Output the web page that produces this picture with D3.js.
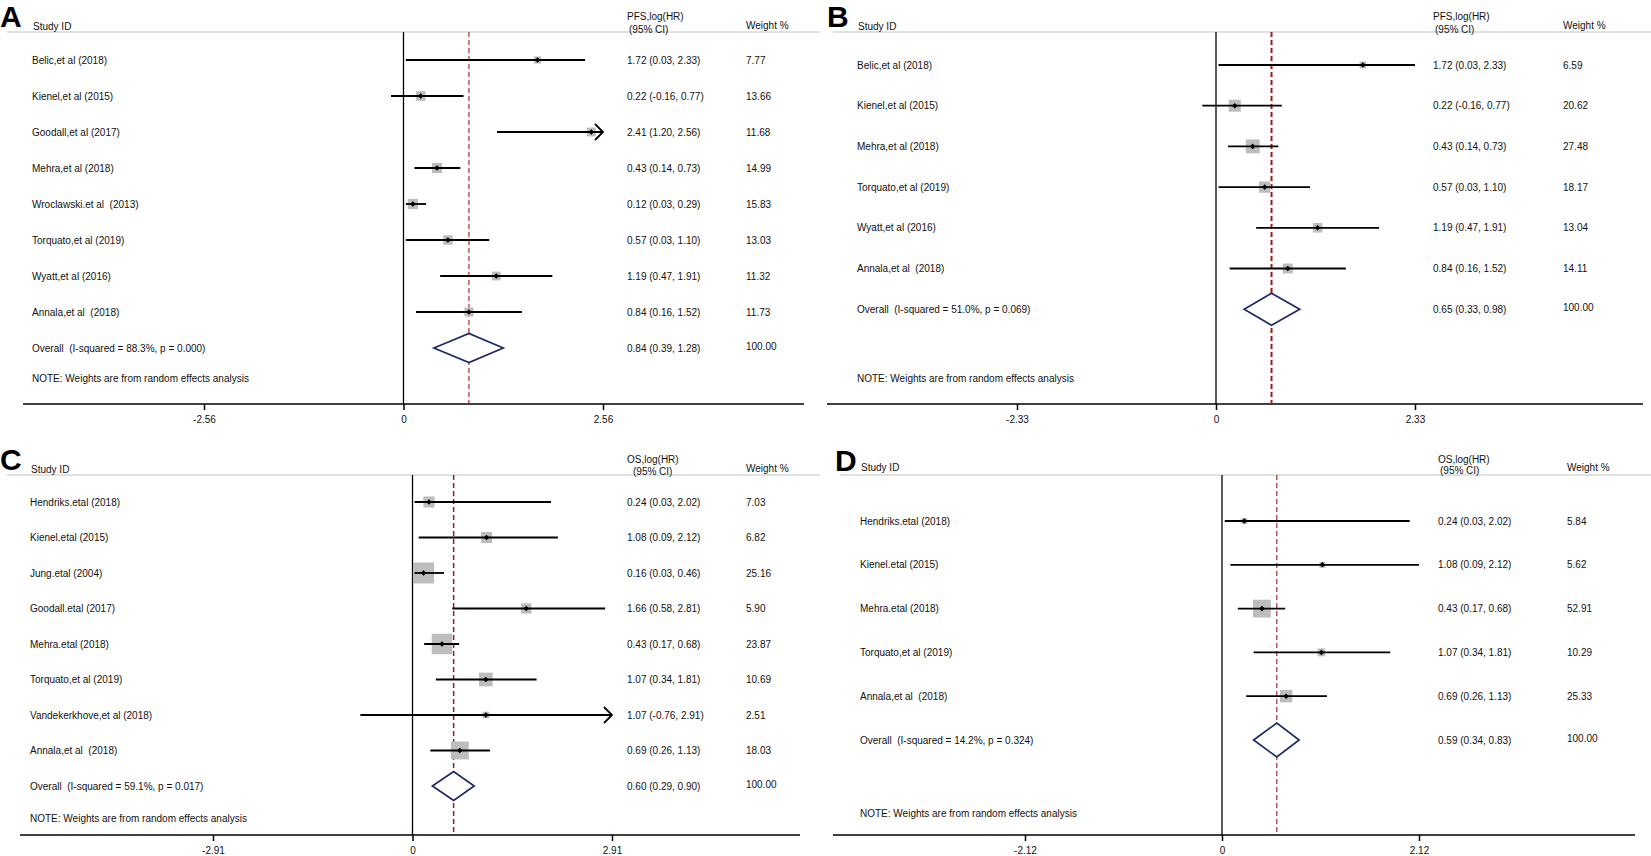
<!DOCTYPE html>
<html>
<head>
<meta charset="utf-8">
<script src="https://cdn.jsdelivr.net/npm/d3@7"></script>
<style>
  html, body { margin: 0; padding: 0; background: #fff; }
  svg text { white-space: pre; }
</style>
</head>
<body>
<svg id="chart" width="1651" height="856"></svg>
<script>
// ---- data: panel A (PFS, 8 studies) ----
const studiesA = ["Belic,et al (2018)", "Kienel,et al (2015)", "Goodall,et al (2017)", "Mehra,et al (2018)",
  "Wroclawski.et al  (2013)", "Torquato,et al (2019)", "Wyatt,et al (2016)", "Annala,et al  (2018)"];
const estA = [1.72, 0.22, 2.41, 0.43, 0.12, 0.57, 1.19, 0.84];
const lowA = [0.03, -0.16, 1.20, 0.14, 0.03, 0.03, 0.47, 0.16];
const highA = [2.33, 0.77, 2.56, 0.73, 0.29, 1.10, 1.91, 1.52];
const weightA = [7.77, 13.66, 11.68, 14.99, 15.83, 13.03, 11.32, 11.73];
const arrowA = [0, 0, 1, 0, 0, 0, 0, 0];   // CI truncated at the axis edge
const overallA = [0.84, 0.39, 1.28];
const overallLabelA = "Overall  (I-squared = 88.3%, p = 0.000)";
const ticksA = [-2.56, 0, 2.56];

// ---- data: panel B (PFS, 6 studies) ----
const studiesB = ["Belic,et al (2018)", "Kienel,et al (2015)", "Mehra,et al (2018)", "Torquato,et al (2019)",
  "Wyatt,et al (2016)", "Annala,et al  (2018)"];
const estB = [1.72, 0.22, 0.43, 0.57, 1.19, 0.84];
const lowB = [0.03, -0.16, 0.14, 0.03, 0.47, 0.16];
const highB = [2.33, 0.77, 0.73, 1.10, 1.91, 1.52];
const weightB = [6.59, 20.62, 27.48, 18.17, 13.04, 14.11];
const arrowB = [0, 0, 0, 0, 0, 0];
const overallB = [0.65, 0.33, 0.98];
const overallLabelB = "Overall  (I-squared = 51.0%, p = 0.069)";
const ticksB = [-2.33, 0, 2.33];

// ---- data: panel C (OS, 8 studies) ----
const studiesC = ["Hendriks.etal (2018)", "Kienel.etal (2015)", "Jung.etal (2004)", "Goodall.etal (2017)",
  "Mehra.etal (2018)", "Torquato,et al (2019)", "Vandekerkhove,et al (2018)", "Annala,et al  (2018)"];
const estC = [0.24, 1.08, 0.16, 1.66, 0.43, 1.07, 1.07, 0.69];
const lowC = [0.03, 0.09, 0.03, 0.58, 0.17, 0.34, -0.76, 0.26];
const highC = [2.02, 2.12, 0.46, 2.81, 0.68, 1.81, 2.91, 1.13];
const weightC = [7.03, 6.82, 25.16, 5.90, 23.87, 10.69, 2.51, 18.03];
const arrowC = [0, 0, 0, 0, 0, 0, 1, 0];
const overallC = [0.60, 0.29, 0.90];
const overallLabelC = "Overall  (I-squared = 59.1%, p = 0.017)";
const ticksC = [-2.91, 0, 2.91];

// ---- data: panel D (OS, 5 studies) ----
const studiesD = ["Hendriks.etal (2018)", "Kienel.etal (2015)", "Mehra.etal (2018)", "Torquato,et al (2019)",
  "Annala,et al  (2018)"];
const estD = [0.24, 1.08, 0.43, 1.07, 0.69];
const lowD = [0.03, 0.09, 0.17, 0.34, 0.26];
const highD = [2.02, 2.12, 0.68, 1.81, 1.13];
const weightD = [5.84, 5.62, 52.91, 10.29, 25.33];
const arrowD = [0, 0, 0, 0, 0];
const overallD = [0.59, 0.34, 0.83];
const overallLabelD = "Overall  (I-squared = 14.2%, p = 0.324)";
const ticksD = [-2.12, 0, 2.12];

const noteText = "NOTE: Weights are from random effects analysis";

const FONT = '"Liberation Sans", Arial, Helvetica, sans-serif';
const svg = d3.select("#chart");

// layout per panel (pixels)
const panels = [
  { letter: "A", head: "PFS,log(HR)", studies: studiesA, est: estA, low: lowA, high: highA, weight: weightA,
    arrow: arrowA, overall: overallA, overallLabel: overallLabelA, ticks: ticksA,
    letterX: 0, letterY: 27, headerY: 32, lineX1: 7, lineX2: 820, labelX: 32, studyIdY: 26,
    estX: 627, ciX: 629, head1Y: 16, head2Y: 29, weightX: 746, weightHeadY: 25,
    rowY0: 60, rowStep: 36, noteY: 378, axisY: 404, axisX1: 23, axisX2: 804, range: [204, 603],
    boxK: 2.6, diamondH: 14.5, dashW: 1.1 },
  { letter: "B", head: "PFS,log(HR)", studies: studiesB, est: estB, low: lowB, high: highB, weight: weightB,
    arrow: arrowB, overall: overallB, overallLabel: overallLabelB, ticks: ticksB,
    letterX: 827, letterY: 27, headerY: 32, lineX1: 833, lineX2: 1651, labelX: 857, studyIdY: 26,
    estX: 1433, ciX: 1435, head1Y: 16, head2Y: 29, weightX: 1563, weightHeadY: 25,
    rowY0: 65, rowStep: 40.7, noteY: 378, axisY: 404, axisX1: 827, axisX2: 1643, range: [1017, 1415],
    boxK: 2.65, diamondH: 16, dashW: 2 },
  { letter: "C", head: "OS,log(HR)", studies: studiesC, est: estC, low: lowC, high: highC, weight: weightC,
    arrow: arrowC, overall: overallC, overallLabel: overallLabelC, ticks: ticksC,
    letterX: 0, letterY: 470, headerY: 475, lineX1: 7, lineX2: 820, labelX: 30, studyIdY: 469,
    estX: 627, ciX: 633, head1Y: 459, head2Y: 471, weightX: 746, weightHeadY: 468,
    rowY0: 502, rowStep: 35.5, noteY: 818, axisY: 835, axisX1: 20, axisX2: 800, range: [213, 612],
    boxK: 4.2, diamondH: 14.5, dashW: 1.5 },
  { letter: "D", head: "OS,log(HR)", studies: studiesD, est: estD, low: lowD, high: highD, weight: weightD,
    arrow: arrowD, overall: overallD, overallLabel: overallLabelD, ticks: ticksD,
    letterX: 835, letterY: 471, headerY: 475, lineX1: 840, lineX2: 1651, labelX: 860, studyIdY: 467,
    estX: 1438, ciX: 1440, head1Y: 459, head2Y: 470, weightX: 1567, weightHeadY: 467,
    rowY0: 521, rowStep: 43.8, noteY: 813, axisY: 835, axisX1: 833, axisX2: 1635, range: [1025, 1419],
    boxK: 2.45, diamondH: 17, dashW: 1.1 }
];

// plain hyphen for negatives, like the original Stata output
const fmt = v => v.toFixed(2);

function txt(g, x, y, s, opts = {}) {
  return g.append("text")
    .attr("x", x).attr("y", y)
    .attr("dominant-baseline", "central")
    .attr("font-family", FONT)
    .attr("font-size", opts.size || 10)
    .attr("font-weight", opts.weight || "normal")
    .attr("fill", "#111")
    .text(s);
}

function drawPanel(p) {
  const g = svg.append("g");
  const lim = p.ticks[p.ticks.length - 1];
  const x = d3.scaleLinear().domain([-lim, lim]).range(p.range);
  const n = p.studies.length;
  const y = i => p.rowY0 + i * p.rowStep;

  // header line and header texts
  g.append("line").attr("x1", p.lineX1).attr("x2", p.lineX2)
    .attr("y1", p.headerY).attr("y2", p.headerY)
    .attr("stroke", "#c4c4c4").attr("stroke-width", 1.2);
  g.append("text").attr("x", p.letterX).attr("y", p.letterY)
    .attr("font-family", FONT).attr("font-size", 30).attr("font-weight", "bold")
    .attr("fill", "#000").text(p.letter);
  txt(g, p.labelX + 1, p.studyIdY, "Study ID");
  txt(g, p.estX, p.head1Y, p.head);
  txt(g, p.ciX, p.head2Y, "(95% CI)");
  txt(g, p.weightX, p.weightHeadY, "Weight %");

  // axis
  g.append("line").attr("x1", p.axisX1).attr("x2", p.axisX2)
    .attr("y1", p.axisY).attr("y2", p.axisY)
    .attr("stroke", "#000").attr("stroke-width", 1.5);
  const axis = d3.axisBottom(x).tickValues(p.ticks).tickSize(6).tickPadding(6)
    .tickFormat(d => d === 0 ? "0" : fmt(d));
  const ax = g.append("g").attr("transform", `translate(0,${p.axisY})`).call(axis);
  ax.select(".domain").remove();
  ax.selectAll(".tick line").attr("stroke", "#000").attr("stroke-width", 1.5);
  ax.selectAll(".tick text").attr("font-family", FONT).attr("font-size", 10).attr("fill", "#111");

  // zero line and overall dashed line
  g.append("line").attr("x1", x(0)).attr("x2", x(0))
    .attr("y1", p.headerY).attr("y2", p.axisY)
    .attr("stroke", "#000").attr("stroke-width", 1.3);
  g.append("line").attr("x1", x(p.overall[0])).attr("x2", x(p.overall[0]))
    .attr("y1", p.headerY).attr("y2", p.axisY)
    .attr("stroke", "#9b1c1c").attr("stroke-width", p.dashW)
    .attr("stroke-dasharray", "5,3");

  // study rows
  const rows = g.selectAll("g.row").data(d3.range(n)).join("g").attr("class", "row");
  rows.each(function (i) {
    const r = d3.select(this);
    const yy = y(i);
    txt(r, p.labelX, yy, p.studies[i]);
    txt(r, p.estX, yy, `${fmt(p.est[i])} (${fmt(p.low[i])}, ${fmt(p.high[i])})`);
    txt(r, p.weightX, yy, fmt(p.weight[i]));

    const side = p.boxK * Math.sqrt(p.weight[i]);
    r.append("rect")
      .attr("x", x(p.est[i]) - side / 2).attr("y", yy - side / 2)
      .attr("width", side).attr("height", side)
      .attr("fill", "#bdbdbd");

    const lo = Math.max(p.low[i], -lim), hi = Math.min(p.high[i], lim);
    r.append("line").attr("x1", x(lo)).attr("x2", x(hi))
      .attr("y1", yy).attr("y2", yy)
      .attr("stroke", "#000").attr("stroke-width", 1.8);
    if (p.arrow[i]) {
      const ex = x(hi);
      r.append("path")
        .attr("d", `M${ex - 8},${yy - 8}L${ex},${yy}L${ex - 8},${yy + 8}`)
        .attr("fill", "none").attr("stroke", "#000").attr("stroke-width", 1.8);
    }
    const cx = x(p.est[i]), h = 2.8;
    r.append("path")
      .attr("d", `M${cx},${yy - h}L${cx + h},${yy}L${cx},${yy + h}L${cx - h},${yy}Z`)
      .attr("fill", "#000");
  });

  // overall row
  const oy = y(n);
  txt(g, p.labelX, oy, p.overallLabel);
  txt(g, p.estX, oy, `${fmt(p.overall[0])} (${fmt(p.overall[1])}, ${fmt(p.overall[2])})`);
  txt(g, p.weightX, oy - 2, "100.00");
  const [oe, ol, oh] = p.overall;
  g.append("path")
    .attr("d", `M${x(ol)},${oy}L${x(oe)},${oy - p.diamondH}L${x(oh)},${oy}L${x(oe)},${oy + p.diamondH}Z`)
    .attr("fill", "#fff").attr("stroke", "#1d2b62").attr("stroke-width", 1.7);

  txt(g, p.labelX, p.noteY, noteText);
}

panels.forEach(drawPanel);
</script>
</body>
</html>
